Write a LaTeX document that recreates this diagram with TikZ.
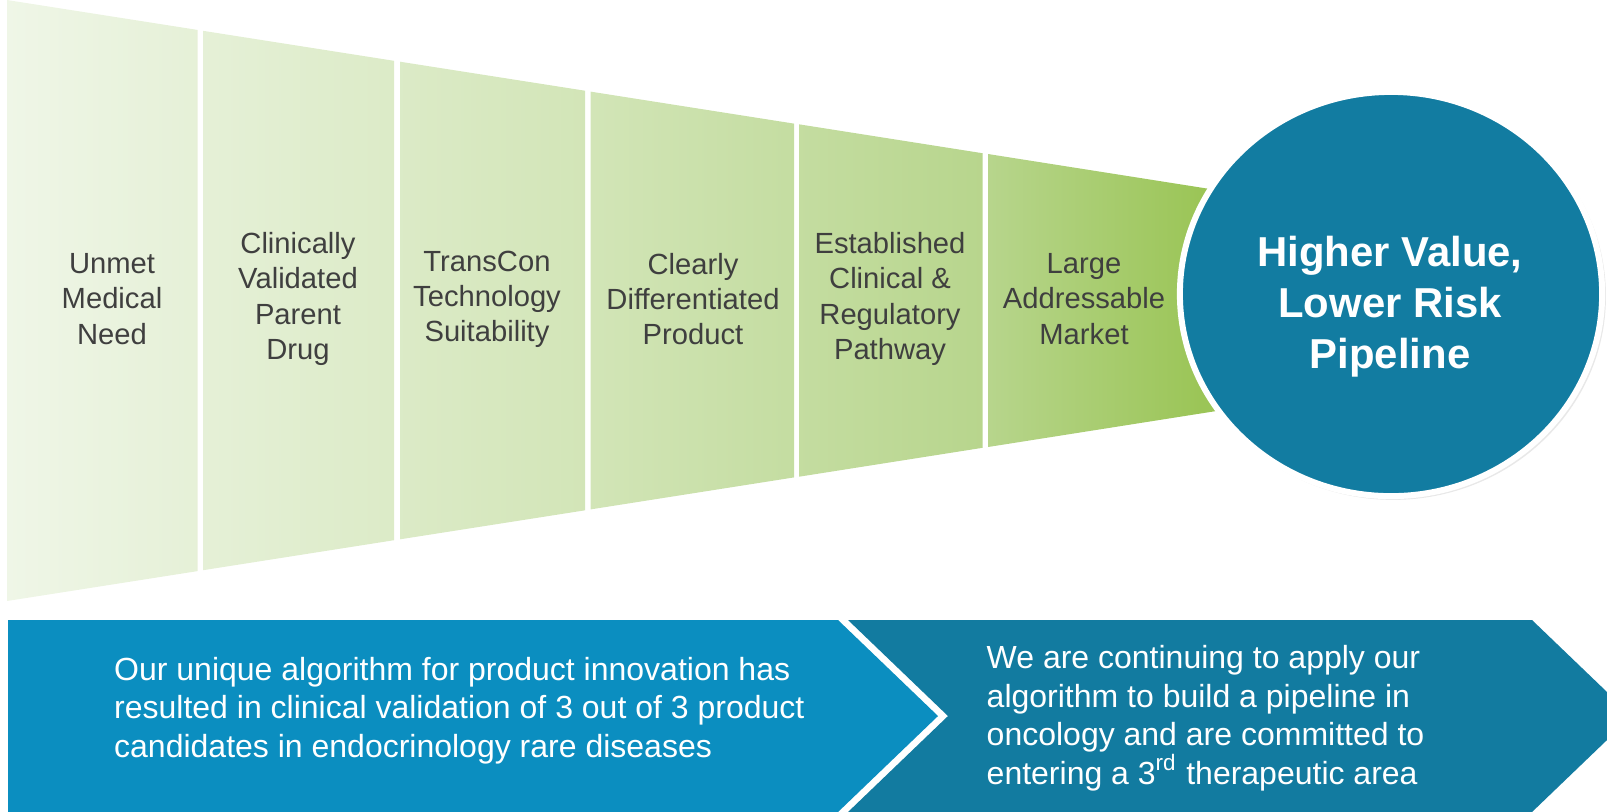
\documentclass[tikz,border=0pt]{standalone}
\usepackage{fontspec}
\setmainfont{Liberation Sans}
\usetikzlibrary{shapes.geometric,shadows}

\definecolor{stepink}{HTML}{3F3F3F}
\definecolor{chevlight}{HTML}{0B8EC0}
\definecolor{chevdark}{HTML}{127BA0}
\definecolor{goalblue}{HTML}{127CA1}
\definecolor{fnla}{HTML}{EFF6E7}
\definecolor{fnlb}{HTML}{D2E5B7}
\definecolor{fnlc}{HTML}{B7D58C}
\definecolor{fnld}{HTML}{9BC557}

% light-to-strong green running left to right across the funnel
\pgfdeclarehorizontalshading{funnelshade}{100bp}{%
  color(0bp)=(fnla); color(25bp)=(fnla); color(48.5bp)=(fnlb);
  color(64.5bp)=(fnlc); color(73bp)=(fnld); color(100bp)=(fnld)}

\begin{document}
\begin{tikzpicture}[x=0.01cm, y=-0.01cm,
  steplabel/.style={font=\fontsize{8.3}{10}\selectfont, text=stepink,
    align=center, inner sep=0},
  bodytext/.style={font=\fontsize{9.1}{10.95}\selectfont, text=white,
    align=left, inner sep=0, anchor=north west},
  ]
\useasboundingbox (0,0) rectangle (1607,811);

% funnel of six tapering steps
\begin{scope}
  \clip (7,0) -- (197.5,29.9) -- (197.5,571.1) -- (7,601) -- cycle
        (203,30.8) -- (394,60.8) -- (394,540.2) -- (203,570.2) -- cycle
        (400,61.7) -- (585,90.7) -- (585,510.3) -- (400,539.3) -- cycle
        (590.5,91.6) -- (794,123.6) -- (794,477.4) -- (590.5,509.4) -- cycle
        (799,124.3) -- (982.5,153.2) -- (982.5,447.8) -- (799,476.7) -- cycle
        (988,154) -- (1250,195.3) -- (1250,405.7) -- (988,447) -- cycle;
  \shade[shading=funnelshade] (7,0) rectangle (1250,601);
\end{scope}

\node (need)    [steplabel] at (112,299)  {Unmet\\Medical\\Need};
\node (drug)    [steplabel] at (298,299)  {Clinically\\Validated\\Parent\\Drug};
\node (tech)    [steplabel] at (487,299)  {TransCon\\Technology\\Suitability};
\node (diff)    [steplabel] at (693,299)  {Clearly\\Differentiated\\Product};
\node (pathway) [steplabel] at (890,299)  {Established\\Clinical \&\\Regulatory\\Pathway};
\node (market)  [steplabel] at (1084,299) {Large\\Addressable\\Market};

% outcome disc
\node (goal) [ellipse, fill=goalblue, draw=white, line width=1.7pt,
  minimum width=4.22cm, minimum height=4.04cm, inner sep=0,
  drop shadow={shadow scale=1.008, shadow xshift=0.6pt, shadow yshift=-0.6pt,
    opacity=0.18}] at (1391,294) {};
\node (goaltext) [font=\bfseries\fontsize{11.9}{14.5}\selectfont, text=white,
  align=center, inner sep=0] at (1390,307) {Higher Value,\\Lower Risk\\Pipeline};

% chevron banners
\fill[chevlight] (8,620) -- (838,620) -- (938,716) -- (838,812) -- (8,812) -- cycle;
\fill[chevdark] (848,620) -- (1532,620) -- (1632,716) -- (1532,812)
  -- (848,812) -- (948,716) -- cycle;

\node (done) [bodytext] at (113.5,656.5)
  {Our unique algorithm for product innovation has\\
   resulted in clinical validation of 3 out of 3 product\\
   candidates in endocrinology rare diseases};
\node (next) [bodytext] at (986,645)
  {We are continuing to apply our\\
   algorithm to build a pipeline in\\
   oncology and are committed to\\
   entering a 3\textsuperscript{rd} therapeutic area};
\end{tikzpicture}
\end{document}
